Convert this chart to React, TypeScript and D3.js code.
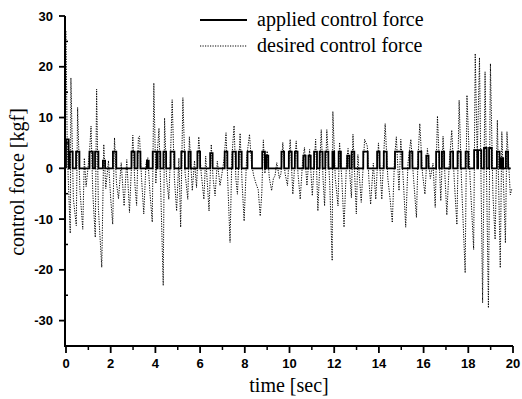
import React from "react";
import * as d3 from "d3";

const xTicks = [0, 2, 4, 6, 8, 10, 12, 14, 16, 18, 20];
const xMinor = [1, 3, 5, 7, 9, 11, 13, 15, 17, 19];
const yTicks = [30, 20, 10, 0, -10, -20, -30];
const yMinor = [25, 15, 5, -5, -15, -25, -35];

// desired control force (dotted): time [sec]
const desiredTime = [
  0.0, 0.05, 0.1, 0.19, 0.22, 0.33, 0.46, 0.52, 0.62, 0.75, 0.82, 0.9, 1.05, 1.12, 1.2, 1.31, 1.37, 1.45, 1.6, 1.69,
  1.78, 1.9, 2.0, 2.09, 2.17, 2.26, 2.35, 2.47, 2.6, 2.72, 2.84, 2.99, 3.08, 3.16, 3.24, 3.29, 3.38, 3.48, 3.58, 3.66,
  3.76, 3.86, 3.93, 4.02, 4.1, 4.16, 4.25, 4.35, 4.41, 4.5, 4.6, 4.68, 4.75, 4.85, 4.95, 5.05, 5.13, 5.23, 5.33, 5.45,
  5.52, 5.65, 5.75, 5.84, 5.94, 6.05, 6.17, 6.25, 6.4, 6.5, 6.58, 6.67, 6.77, 6.89, 6.98, 7.08, 7.16, 7.25, 7.34, 7.42,
  7.52, 7.6, 7.67, 7.79, 7.88, 7.97, 8.08, 8.21, 8.3, 8.4, 8.5, 8.6, 8.69, 8.76, 8.83, 8.9, 9.0, 9.1, 9.2, 9.28,
  9.35, 9.43, 9.55, 9.62, 9.7, 9.8, 9.91, 10.03, 10.15, 10.3, 10.38, 10.48, 10.58, 10.67, 10.78, 10.9, 11.02, 11.17, 11.27, 11.42,
  11.5, 11.57, 11.67, 11.8, 11.91, 11.94, 12.05, 12.17, 12.24, 12.34, 12.44, 12.55, 12.62, 12.77, 12.84, 12.99, 13.06, 13.21, 13.36, 13.48,
  13.55, 13.63, 13.75, 13.86, 13.98, 14.13, 14.2, 14.28, 14.4, 14.5, 14.6, 14.7, 14.78, 14.9, 14.98, 15.1, 15.2, 15.3, 15.43, 15.55,
  15.68, 15.75, 15.83, 15.95, 16.06, 16.17, 16.3, 16.42, 16.52, 16.62, 16.77, 16.87, 16.95, 17.04, 17.15, 17.26, 17.38, 17.49, 17.59, 17.7,
  17.86, 17.94, 18.08, 18.24, 18.31, 18.4, 18.5, 18.64, 18.75, 18.9, 18.99, 19.1, 19.2, 19.3, 19.43, 19.5, 19.66, 19.73, 19.88, 19.95,
];
// desired control force (dotted): value [kgf]
const desiredValue = [
  27, 6, -2, -12.8, 17.8, -6, -11.3, 12, -4, -12, 2, -3.6, 3, 8.3, -5, -13.6, 15.6, -8, -19.5, 4.7,
  -4, 1.5, -6, -11, 6.0, -3, -6, 1.1, -7.4, 1.7, -8.7, 6.5, -3, -7.3, 6.2, 6.3, -2, -9, 1, 2.1,
  -5, -10.6, 16.8, -3, 4, 7.9, -6, -23.1, 9.9, -2, -6.1, 3, 13.5, -2, -8.4, 2, -11.6, 13.9, -1, -6.1,
  6.2, -4.4, 1.5, -3.8, 6.2, -1, -6.1, 2.4, -8.4, 4.7, -2, -5.4, 1.4, -3.4, -1, 2, 7.0, -4, -14.6, 2,
  8.4, -2, -5.1, 6.9, -3, -10.4, 2, 6.7, 1, -1.5, -3, -4.2, -9.4, -5, 5.6, -1, 3.4, -2, -4.4, -2,
  -1.5, 1.1, -2, -1, 5.1, -1, -3.4, 5.7, -5.1, 5.4, -1, -6.1, 1, 4.1, -3.4, 3.7, -5.4, 5.7, -8.4, 7.6,
  -2, -7.4, 7.6, -3, -18.2, 11.2, -2, -7.4, 5.1, -2, -11.6, 1, 3.9, -5.8, 6.7, -9.0, 2.7, -6.7, 5.7, 4.4,
  -2, -7.1, 1, -6.1, 5.0, -6.1, 1, 8.8, -2, -6, -10.7, 2, 6.2, -4.4, 5.7, -3, -11.6, 1, 5.7, -2,
  -9.7, 2, 8.8, -1, -5.1, 3.9, -2, 1, -7.7, 10.3, -6.4, 6.3, -1, -9.2, 1, 7.5, -3, -11.1, 13.4, -3,
  -20.6, 14.4, -2, -16, 22.6, 2, 21.8, -26.5, 19, -27.5, 20.6, -5, -14, 9.5, -19.6, 7.2, -14.7, 7.2, -5.2, -4,
];

// applied control force (solid): on/off pulses
const pulseStart = [
  0.0, 0.17, 0.45, 1.05, 1.3, 1.65, 2.1, 2.93, 3.2, 3.62, 3.88, 4.1, 4.36, 4.68, 5.16, 5.48, 5.88, 6.45, 7.1, 7.45,
  7.73, 8.12, 8.78, 8.96, 9.64, 9.97, 10.24, 10.62, 10.85, 11.1, 11.35, 11.6, 11.92, 12.2, 12.58, 12.78, 13.3, 13.92, 14.22, 14.72,
  15.38, 15.76, 16.12, 16.56, 16.82, 17.2, 17.52, 17.88, 18.26, 18.44, 18.7, 18.93, 19.28, 19.48, 19.68,
];
const pulseEnd = [
  0.12, 0.3, 0.6, 1.2, 1.45, 1.75, 2.25, 3.07, 3.33, 3.7, 4.05, 4.22, 4.48, 4.85, 5.32, 5.58, 6.0, 6.56, 7.22, 7.6,
  7.86, 8.32, 8.9, 9.05, 9.76, 10.1, 10.36, 10.72, 10.95, 11.23, 11.48, 11.74, 12.0, 12.3, 12.68, 12.9, 13.5, 14.03, 14.35, 15.05,
  15.5, 15.9, 16.22, 16.7, 16.92, 17.32, 17.66, 18.0, 18.4, 18.58, 18.82, 19.05, 19.4, 19.56, 19.78,
];
const pulseHeight = [
  5.7, 3.3, 3.3, 3.3, 3.3, 1.5, 3.3, 3.3, 3.3, 1.5, 3.3, 3.3, 3.3, 3.3, 3.3, 3.3, 3.3, 3.0, 3.3, 3.3,
  3.3, 3.3, 3.3, 2.5, 3.3, 3.3, 3.3, 2.5, 2.5, 3.3, 3.3, 3.3, 3.3, 3.3, 2.5, 3.3, 3.3, 3.3, 3.3, 3.3,
  3.3, 3.3, 2.5, 3.3, 3.3, 3.3, 3.3, 3.3, 3.6, 3.6, 4.0, 4.0, 3.3, 2.0, 3.3,
];
const appliedEnd = 19.9;

const W = 522;
const H = 399;

export default function App() {
  const x = d3.scaleLinear().domain([0, 20]).range([66, 513]);
  const y = d3.scaleLinear().domain([-35, 30]).range([346, 16]);

  const desiredPts: [number, number][] = desiredTime.map((t, i) => [t, desiredValue[i]]);
  const appliedPts: [number, number][] = [];
  pulseStart.forEach((s, i) => {
    appliedPts.push([s, 0], [s, pulseHeight[i]], [pulseEnd[i], pulseHeight[i]], [pulseEnd[i], 0]);
  });
  appliedPts.push([appliedEnd, 0]);

  const line = d3
    .line<[number, number]>()
    .x((d) => x(d[0]))
    .y((d) => y(d[1]));

  const tickFont = { fontFamily: "'Liberation Sans', Arial, sans-serif", fontWeight: 700, fontSize: 13 };
  const serif = { fontFamily: "'Liberation Serif', 'Times New Roman', serif", fontSize: 20 };
  const axisX = 65;
  const axisY = y(-35);

  return (
    <svg width={W} height={H} style={{ position: "fixed", left: 0, top: 0, background: "#fff" }}>
      <rect x={0} y={0} width={W} height={H} fill="#fff" />
      {/* data */}
      <path d={line(desiredPts) || ""} fill="none" stroke="#000" strokeWidth={1} strokeDasharray="1.2,1.3" />
      <path d={line(appliedPts) || ""} fill="none" stroke="#000" strokeWidth={1.8} />

      {/* axes */}
      <line x1={axisX} x2={axisX} y1={y(30)} y2={axisY + 1} stroke="#000" strokeWidth={2} />
      <line x1={axisX - 1} x2={x(20)} y1={axisY} y2={axisY} stroke="#000" strokeWidth={2} />
      {yTicks.map((v) => (
        <g key={"y" + v}>
          <line x1={axisX - 6} x2={axisX} y1={y(v)} y2={y(v)} stroke="#000" strokeWidth={1.8} />
          <text x={axisX - 12} y={y(v) + 4.5} textAnchor="end" style={tickFont}>
            {v}
          </text>
        </g>
      ))}
      {yMinor.map((v) => (
        <line key={"ym" + v} x1={axisX} x2={axisX + 3} y1={y(v)} y2={y(v)} stroke="#000" strokeWidth={1.5} />
      ))}
      {xTicks.map((v) => (
        <g key={"x" + v}>
          <line x1={x(v)} x2={x(v)} y1={axisY} y2={axisY + 7} stroke="#000" strokeWidth={1.8} />
          <text x={x(v)} y={axisY + 22} textAnchor="middle" style={tickFont}>
            {v}
          </text>
        </g>
      ))}
      {xMinor.map((v) => (
        <line key={"xm" + v} x1={x(v)} x2={x(v)} y1={axisY} y2={axisY + 4} stroke="#000" strokeWidth={1.5} />
      ))}

      {/* axis titles */}
      <text x={289} y={392} textAnchor="middle" style={serif}>
        time [sec]
      </text>
      <text transform={`translate(24,182) rotate(-90)`} textAnchor="middle" style={serif}>
        control force [kgf]
      </text>

      {/* legend */}
      <line x1={200} x2={247} y1={20} y2={20} stroke="#000" strokeWidth={1.8} />
      <text x={257} y={26} style={serif}>
        applied control force
      </text>
      <line x1={200} x2={247} y1={46} y2={46} stroke="#000" strokeWidth={1} strokeDasharray="1.2,1.3" />
      <text x={257} y={52} style={serif}>
        desired control force
      </text>
    </svg>
  );
}
